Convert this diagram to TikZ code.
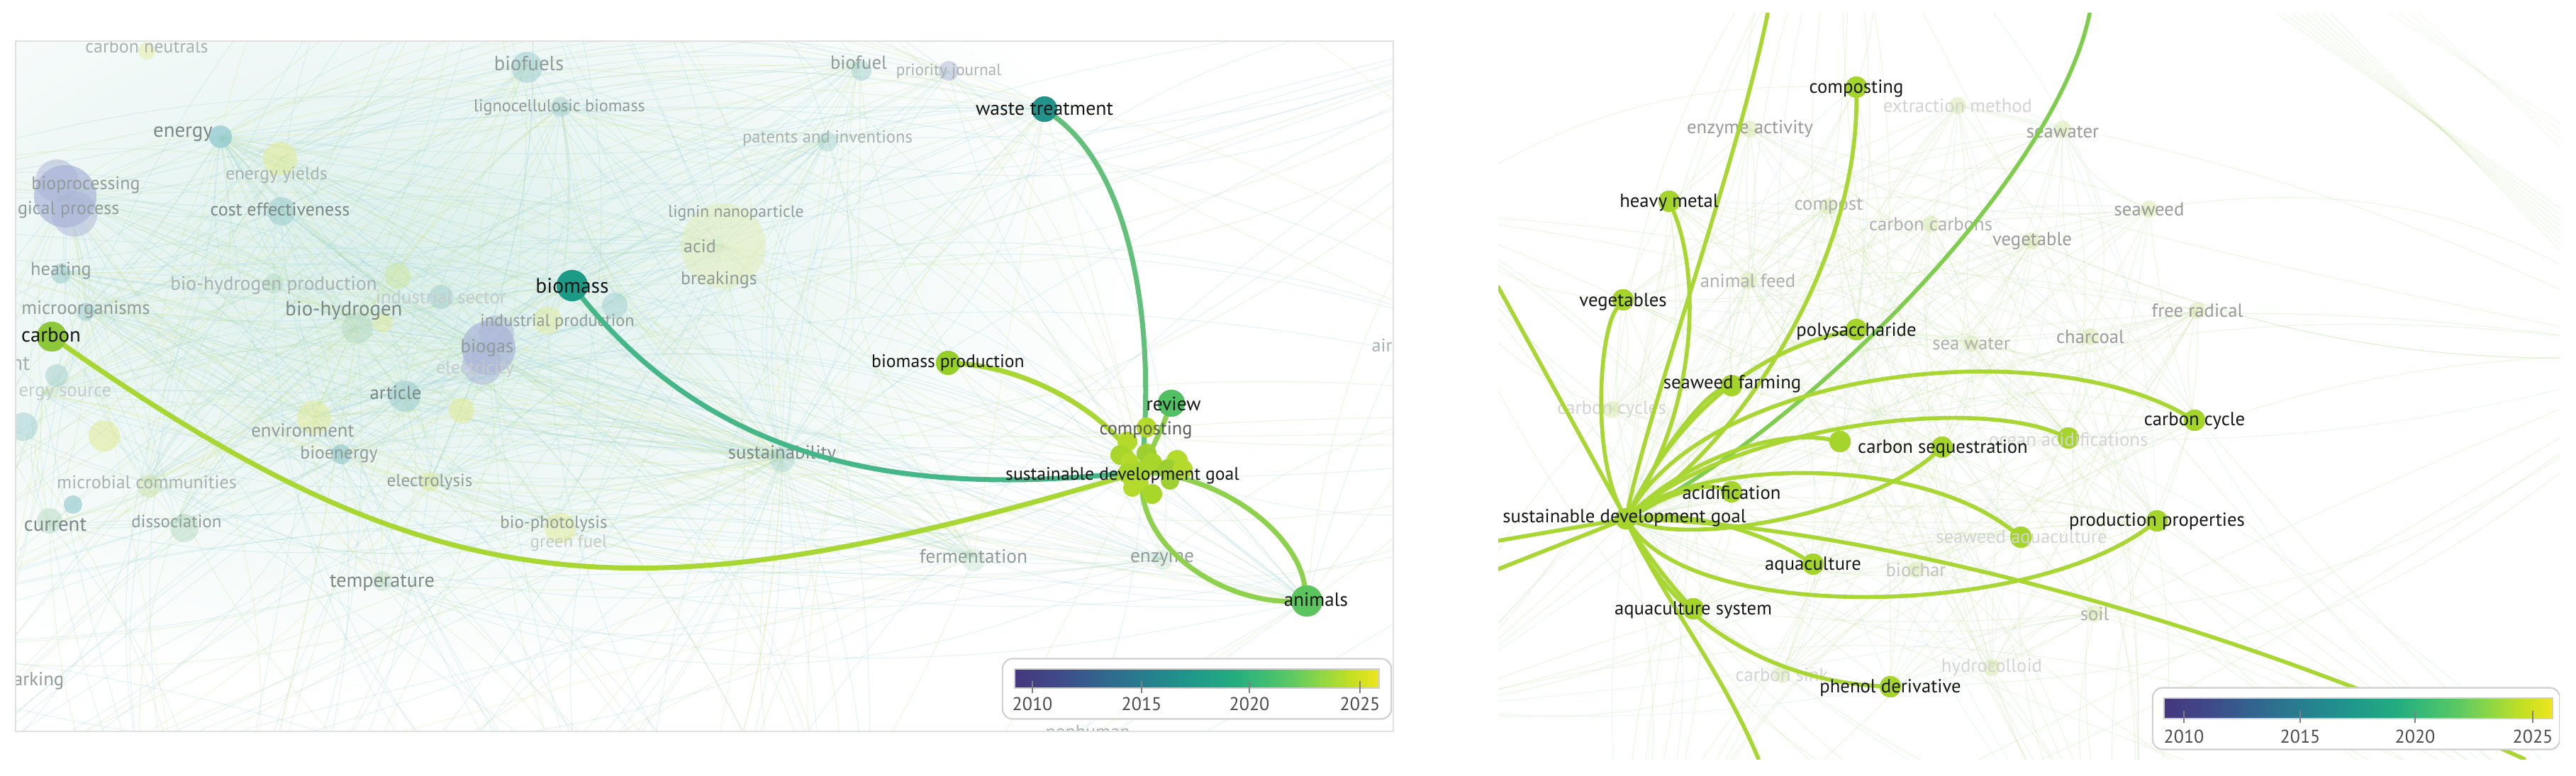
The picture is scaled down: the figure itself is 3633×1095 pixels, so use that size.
\documentclass[tikz,border=0pt]{standalone}
\usepackage{fontspec}
\setmainfont{PT Sans}
\definecolor{lk}{HTML}{161616}
\definecolor{fg1}{HTML}{7C8886}
\definecolor{fg2}{HTML}{919B99}
\definecolor{fg3}{HTML}{A9B2B0}
\definecolor{fg4}{HTML}{C4CCCA}
\definecolor{rg1}{HTML}{9A9A9A}
\definecolor{rg2}{HTML}{AFAFAF}
\definecolor{rg3}{HTML}{C4C4C4}
\definecolor{rg4}{HTML}{D4D4D4}
\definecolor{cT}{HTML}{9FCFCF}
\definecolor{cT2}{HTML}{8CC7CE}
\definecolor{cL}{HTML}{AAB4D8}
\definecolor{cY}{HTML}{E2EC9C}
\definecolor{cYp}{HTML}{E3EFBE}
\definecolor{cG}{HTML}{B5DBC0}
\definecolor{cGY}{HTML}{CDE6A8}
\definecolor{cRf}{HTML}{DCEBB5}
\definecolor{haze}{HTML}{DDF0EC}
\definecolor{bgB}{HTML}{8CCCD4}
\definecolor{bgG}{HTML}{B4DE8C}
\definecolor{bgY}{HTML}{DDE996}
\definecolor{bgR}{HTML}{C6E4A0}
\definecolor{bgRb}{HTML}{CFE3EA}
\definecolor{nSDG}{HTML}{A8D62A}
\definecolor{nSDGb}{HTML}{B4DB2C}
\definecolor{nSDGc}{HTML}{9ECF30}
\definecolor{nCarbon}{HTML}{8DC83A}
\definecolor{nBiomass}{HTML}{1B9A86}
\definecolor{nWaste}{HTML}{22928A}
\definecolor{nReview}{HTML}{50C062}
\definecolor{nAnimals}{HTML}{5CC45C}
\definecolor{nBP}{HTML}{96CF28}
\definecolor{nR}{HTML}{A5D42A}
\definecolor{lnY}{HTML}{A8D632}
\definecolor{lnG}{HTML}{7ECD4C}
\definecolor{lnBio}{HTML}{45B688}
\definecolor{lnWaste}{HTML}{62C07A}
\definecolor{lnAn}{HTML}{8ED14C}
\definecolor{legb}{HTML}{CFCFCF}
\definecolor{legt}{HTML}{4A4A4A}
\definecolor{vA}{HTML}{46377F}
\definecolor{vB}{HTML}{3F4A8A}
\definecolor{vC}{HTML}{31678E}
\definecolor{vD}{HTML}{277F8E}
\definecolor{vE}{HTML}{1F978B}
\definecolor{vF}{HTML}{23AC80}
\definecolor{vG}{HTML}{3DBC74}
\definecolor{vH}{HTML}{5EC962}
\definecolor{vI}{HTML}{8FD744}
\definecolor{vJ}{HTML}{C2DF23}
\definecolor{vK}{HTML}{F0E51F}
\pgfdeclarehorizontalshading{viridisbar}{100bp}{color(0bp)=(vA); color(25bp)=(vA); color(31bp)=(vB); color(37bp)=(vC); color(43bp)=(vD); color(49bp)=(vE); color(55bp)=(vF); color(59bp)=(vG); color(63bp)=(vH); color(67bp)=(vI); color(71bp)=(vJ); color(75bp)=(vK); color(100bp)=(vK)}
\def\LX{{92,311,395,397,86,121,504,689,571,443,481,207,249,606,781,539,743,791,1211,1338,1167,1020,807,1103,1373,1639,1612,1473,1843,70,60,-300,-300,700,2400,1200,300,2300,1103,1103,92,311,689,1103,-200,900}}
\def\LY{{277,193,224,296,384,437,463,491,559,589,641,680,736,680,739,823,91,151,88,101,195,347,403,645,785,789,655,154,848,741,555,300,900,-300,600,1400,1400,0,645,645,277,193,491,645,1200,1400}}
\def\RX{{2293,2618,2354,2289,2618,2442,2442,2557,2388,2666,2739,3095,2917,2850,3042,2761,2468,2909,2579,2723,3031,2866,2465,3099,2780,2948,2273,2702,2954,2809,2513,2000,2000,2600,3800,3000,3800,2300,2293,2293,2595}}
\def\RY{{732,123,284,423,465,544,694,796,859,969,631,593,618,758,735,149,182,182,291,316,295,340,396,438,485,475,578,804,866,942,952,300,1000,-200,1300,1300,500,1300,732,732,623}}
\begin{document}
\begin{tikzpicture}[x=0.01cm,y=-0.01cm,
  bub/.style={circle,inner sep=0pt,minimum size=#1*0.02cm},
  fsz/.style={font=\fontsize{#1}{#1}\selectfont},
  lab/.style={inner sep=0pt,text=lk,fsz=7.4},
  flab/.style={inner sep=0pt,text=#1,fsz=7.4},
  mainL/.style={line width=2pt,line cap=round},
  mainR/.style={line width=1.6pt,line cap=round,lnY},
  tick/.style={draw=legt!70,line width=0.5pt},
  legtxt/.style={inner sep=0pt,text=legt,fsz=7.4},
]
\useasboundingbox (0,0) rectangle (3633,1095);
\fill[white] (0,0) rectangle (3633,1095);

%================ LEFT PANEL ================
\begin{scope}
\clip (22,58) rectangle (1965,1032);
\fill[white] (22,58) rectangle (1965,1032);
\shade[inner color=haze,outer color=white] (560,380) ellipse [x radius=1050,y radius=600];
\pgfmathsetseed{11}
\foreach \i in {1,...,330}{
  \pgfmathtruncatemacro{\a}{random(0,45)}
  \pgfmathtruncatemacro{\b}{random(0,45)}
  \pgfmathtruncatemacro{\bd}{random(0,60)-30}
  \pgfmathsetmacro{\xa}{\LX[\a]}\pgfmathsetmacro{\ya}{\LY[\a]}
  \pgfmathsetmacro{\xb}{\LX[\b]}\pgfmathsetmacro{\yb}{\LY[\b]}
  \pgfmathsetmacro{\dd}{abs(\xa-\xb)+abs(\ya-\yb)}
  \ifdim\dd pt<2pt\else
    \draw[bgB,opacity=.2,line width=.35pt] (\xa,\ya) to[bend left=\bd] (\xb,\yb);
  \fi
}
\foreach \i in {1,...,200}{
  \pgfmathtruncatemacro{\a}{random(0,45)}
  \pgfmathtruncatemacro{\b}{random(0,45)}
  \pgfmathtruncatemacro{\bd}{random(0,60)-30}
  \pgfmathsetmacro{\xa}{\LX[\a]}\pgfmathsetmacro{\ya}{\LY[\a]}
  \pgfmathsetmacro{\xb}{\LX[\b]}\pgfmathsetmacro{\yb}{\LY[\b]}
  \pgfmathsetmacro{\dd}{abs(\xa-\xb)+abs(\ya-\yb)}
  \ifdim\dd pt<2pt\else
    \draw[bgG,opacity=.22,line width=.35pt] (\xa,\ya) to[bend left=\bd] (\xb,\yb);
  \fi
}
\foreach \i in {1,...,60}{
  \pgfmathtruncatemacro{\a}{random(0,45)}
  \pgfmathtruncatemacro{\b}{random(0,45)}
  \pgfmathtruncatemacro{\bd}{random(0,60)-30}
  \pgfmathsetmacro{\xa}{\LX[\a]}\pgfmathsetmacro{\ya}{\LY[\a]}
  \pgfmathsetmacro{\xb}{\LX[\b]}\pgfmathsetmacro{\yb}{\LY[\b]}
  \pgfmathsetmacro{\dd}{abs(\xa-\xb)+abs(\ya-\yb)}
  \ifdim\dd pt<2pt\else
    \draw[bgY,opacity=.3,line width=.35pt] (\xa,\ya) to[bend left=\bd] (\xb,\yb);
  \fi
}
% faint bubbles
\node[bub=12,fill=cY,fill opacity=.5] (nCneut) at (207,72) {};
\node[bub=22,fill=cT,fill opacity=.55] (nBiofuels) at (743,95) {};
\node[bub=14,fill=cT,fill opacity=.5] (nLigno) at (791,151) {};
\node[bub=16,fill=cT2,fill opacity=.7] (nEnergy) at (311,193) {};
\node[bub=24,fill=cY,fill opacity=.6] (nEyield) at (395,224) {};
\node[bub=44,fill=cL,fill opacity=.7] (nBioproc) at (92,277) {};
\node[bub=30,fill=cL,fill opacity=.5] (nBioprocB) at (80,255) {};
\node[bub=32,fill=cL,fill opacity=.5] (nBioprocC) at (105,302) {};
\node[bub=20,fill=cT,fill opacity=.6] (nCost) at (397,298) {};
\node[bub=14,fill=cT,fill opacity=.6] (nHeat) at (86,386) {};
\node[bub=14,fill=cG,fill opacity=.5] (nBhp) at (386,400) {};
\node[bub=18,fill=cGY,fill opacity=.6] (nXa) at (561,389) {};
\node[bub=17,fill=cT,fill opacity=.5] (nIndsec) at (622,419) {};
\node[bub=13,fill=cT,fill opacity=.5] (nMicro) at (121,440) {};
\node[bub=22,fill=cG,fill opacity=.5] (nBh) at (504,463) {};
\node[bub=14,fill=cY,fill opacity=.5] (nBhy) at (540,455) {};
\node[bub=20,fill=cY,fill opacity=.5] (nIndprod) at (772,452) {};
\node[bub=18,fill=cT,fill opacity=.5] (nXb) at (867,431) {};
\node[bub=38,fill=cL,fill opacity=.7] (nBiogas) at (689,491) {};
\node[bub=25,fill=cL,fill opacity=.5] (nBiogasB) at (700,470) {};
\node[bub=28,fill=cL,fill opacity=.5] (nBiogasC) at (680,515) {};
\node[bub=18,fill=cY,fill opacity=.6] (nXc) at (651,579) {};
\node[bub=22,fill=cT,fill opacity=.6] (nArticle) at (571,559) {};
\node[bub=16,fill=cT,fill opacity=.5] (nXd) at (80,530) {};
\node[bub=22,fill=cY,fill opacity=.6] (nXe) at (147,615) {};
\node[bub=20,fill=cT,fill opacity=.5] (nXf) at (33,602) {};
\node[bub=24,fill=cY,fill opacity=.55] (nEnv) at (443,589) {};
\node[bub=14,fill=cT2,fill opacity=.6] (nBioen) at (481,641) {};
\node[bub=16,fill=cGY,fill opacity=.5] (nMcom) at (210,686) {};
\node[bub=14,fill=cY,fill opacity=.5] (nElys) at (606,680) {};
\node[bub=13,fill=cT2,fill opacity=.6] (nXg) at (103,712) {};
\node[bub=18,fill=cG,fill opacity=.5] (nCurr) at (70,735) {};
\node[bub=20,fill=cG,fill opacity=.5] (nDiss) at (260,745) {};
\node[bub=22,fill=cY,fill opacity=.55] (nBphot) at (790,745) {};
\node[bub=14,fill=cG,fill opacity=.4] (nTemp) at (539,820) {};
\node[bub=60,fill=cYp,fill opacity=.6] (nAcid) at (1020,347) {};
\node[bub=14,fill=cT,fill opacity=.5] (nBiofuel) at (1215,100) {};
\node[bub=14,fill=cL,fill opacity=.5] (nPrio) at (1338,100) {};
\node[bub=14,fill=cT,fill opacity=.4] (nPat) at (1167,200) {};
\node[bub=18,fill=cT,fill opacity=.4] (nSust) at (1103,648) {};
\node[bub=16,fill=cG,fill opacity=.35] (nFerm) at (1373,790) {};
\node[bub=14,fill=cG,fill opacity=.35] (nEnz) at (1640,790) {};
% faint labels
\node[flab=fg3] (tCneut) at (207,66) {carbon neutrals};
\node[flab=fg2,fsz=8.2] (tBiofuels) at (746,89) {biofuels};
\node[flab=fg2,fsz=6.9] (tLigno) at (789,151) {lignocellulosic biomass};
\node[flab=fg1,fsz=8.2] (tEnergy) at (258,189) {energy};
\node[flab=fg3,fsz=7.2] (tEyield) at (390,247) {energy yields};
\node[flab=fg2] (tBioproc) at (121,261) {bioprocessing};
\node[flab=fg2,anchor=east] (tBiolog) at (169,296) {gical process};
\node[flab=fg1] (tCost) at (395,295) {cost effectiveness};
\node[flab=fg2,fsz=7.5] (tHeat) at (86,382) {heating};
\node[flab=fg3,fsz=7.8] (tBhp) at (386,403) {bio-hydrogen production};
\node[flab=fg4,fsz=7.6] (tIndsec) at (622,419) {industrial sector};
\node[flab=fg2,fsz=7.6] (tMicro) at (121,437) {microorganisms};
\node[flab=fg1,fsz=8.2] (tBh) at (485,438) {bio-hydrogen};
\node[flab=fg2,fsz=6.9] (tIndprod) at (786,454) {industrial production};
\node[flab=fg2,fsz=7.6] (tBiogas) at (687,491) {biogas};
\node[flab=fg4] (tElec) at (670,521) {electricity};
\node[flab=fg1,fsz=7.6] (tArticle) at (558,554) {article};
\node[flab=fg3,fsz=8.5,anchor=east] (tNt) at (43,513) {nt};
\node[flab=fg4,fsz=7.6,anchor=east] (tEsrc) at (158,555) {ergy source};
\node[flab=fg2,fsz=7.6] (tEnv) at (427,607) {environment};
\node[flab=fg2,fsz=7.3] (tBioen) at (478,641) {bioenergy};
\node[flab=fg3] (tMcom) at (207,680) {microbial communities};
\node[flab=fg2,fsz=7.1] (tElys) at (606,680) {electrolysis};
\node[flab=fg1,fsz=8.2,anchor=east] (tCurr) at (123,741) {current};
\node[flab=fg2,fsz=7.1] (tDiss) at (249,736) {dissociation};
\node[flab=fg2,fsz=7.1] (tBphot) at (781,739) {bio-photolysis};
\node[flab=fg4,fsz=7.1] (tGfuel) at (802,766) {green fuel};
\node[flab=fg1,fsz=8] (tTemp) at (539,823) {temperature};
\node[flab=fg2,fsz=7.6,anchor=east] (tArk) at (91,961) {arking};
\node[flab=fg2,fsz=6.7] (tLignin) at (1038,301) {lignin nanoparticle};
\node[flab=fg2] (tAcid) at (987,347) {acid};
\node[flab=fg2] (tBreak) at (1014,395) {breakings};
\node[flab=fg2,fsz=7.6] (tBiofuel) at (1211,88) {biofuel};
\node[flab=fg3,fsz=6.6] (tPrio) at (1338,101) {priority journal};
\node[flab=fg3,fsz=7] (tPat) at (1167,195) {patents and inventions};
\node[flab=fg1,fsz=7.6] (tSust) at (1103,641) {sustainability};
\node[flab=fg2,fsz=7.8] (tFerm) at (1373,785) {fermentation};
\node[flab=fg2,fsz=7.8] (tEnz) at (1639,789) {enzyme};
\node[flab=fg3,anchor=west] (tAir) at (1934,487) {air};
\node[flab=fg3] (tNonh) at (1534,1033) {nonhuman};
% active nodes (left)
\node[bub=21,fill=nCarbon] (carbonL) at (73,475) {};
\node[bub=22,fill=nBiomass] (biomassL) at (807,403) {};
\node[bub=18,fill=nWaste] (wasteL) at (1473,154) {};
\node[bub=17,fill=nBP] (bprodL) at (1337,512) {};
\node[bub=19,fill=nReview] (reviewL) at (1652,569) {};
\node[bub=22,fill=nAnimals] (animalsL) at (1843,848) {};
\node[bub=14,fill=nSDG] (sdgL) at (1610,665) {};
% main connectors (left)
\draw[mainL,lnY] (carbonL) .. controls (623,860) and (900,875) .. (sdgL);
\draw[mainL,lnBio] (biomassL) .. controls (1000,640) and (1250,705) .. (sdgL);
\draw[mainL,lnWaste] (wasteL) .. controls (1590,240) and (1630,440) .. (sdgL);
\draw[mainL,lnY] (bprodL) .. controls (1450,520) and (1560,580) .. (sdgL);
\draw[mainL,lnAn] (reviewL) .. controls (1640,600) .. (sdgL);
\draw[mainL,lnAn] (sdgL) .. controls (1610,780) and (1730,850) .. (animalsL);
\draw[mainL,lnAn] (sdgL) .. controls (1740,680) and (1830,760) .. (animalsL);
\node[bub=21,fill=nCarbon] at (carbonL) {};
\node[bub=22,fill=nBiomass] at (biomassL) {};
\node[bub=18,fill=nWaste] at (wasteL) {};
\node[bub=17,fill=nBP] at (bprodL) {};
\node[bub=19,fill=nReview] at (reviewL) {};
\node[bub=22,fill=nAnimals] at (animalsL) {};
\node[bub=14,fill=nSDGb] (cA) at (1590,623) {};
\node[bub=14,fill=nSDG] (cB) at (1580,642) {};
\node[bub=14,fill=nSDGc] (cC) at (1617,640) {};
\node[bub=13,fill=nSDGb] (cD) at (1593,652) {};
\node[bub=14,fill=nSDG] (cE) at (1625,653) {};
\node[bub=15,fill=nSDGb] (cF) at (1660,650) {};
\node[bub=14,fill=nSDGc] (cG) at (1647,662) {};
\node[bub=14,fill=nSDGb] (cH) at (1668,662) {};
\node[bub=14,fill=nSDG] (cI) at (1590,668) {};
\node[bub=13,fill=nSDGb] (cJ) at (1607,682) {};
\node[bub=14,fill=nSDG] (cK) at (1625,697) {};
\node[bub=13,fill=nSDGc] (cL) at (1650,678) {};
\node[bub=13,fill=nSDGb] (cM) at (1597,688) {};
\node[bub=14,fill=nSDGb] (compL) at (1617,603) {};
\node[bub=14,fill=nSDG] at (sdgL) {};
% active labels (left)
\node[lab,fsz=8.2] (tCarbonL) at (72,473) {carbon};
\node[lab,fsz=8.4] (tBiomassL) at (807,403) {biomass};
\node[lab,fsz=7.9] (tWasteL) at (1473,154) {waste treatment};
\node[lab,fsz=7.3] (tBprodL) at (1337,512) {biomass production};
\node[lab,fsz=7.8] (tReviewL) at (1655,570) {review};
\node[lab,fsz=7.5,text=lk!70] (tCompL) at (1616,607) {composting};
\node[lab,fsz=7.3] (tSdgL) at (1583,671) {sustainable development goal};
\node[lab,fsz=7.7] (tAnimalsL) at (1856,846) {animals};
% legend (left)
\node[draw=legb,line width=.6pt,fill=white,rounded corners=4pt,minimum width=5.48cm,minimum height=0.85cm,inner sep=0pt] (legL) at (1688,972) {};
\node[shade,shading=viridisbar,draw=legb,minimum width=5.14cm,minimum height=0.27cm,inner sep=0pt] (barL) at (1688,957.5) {};
\foreach \tx in {1456,1610,1762,1918} \draw[tick] (\tx,961) -- (\tx,978);
\node[legtxt] (lgA) at (1456,993) {2010};
\node[legtxt] (lgB) at (1610,993) {2015};
\node[legtxt] (lgC) at (1762,993) {2020};
\node[legtxt] (lgD) at (1918,993) {2025};
\end{scope}
\draw[black!12,line width=.5pt] (22,58) rectangle (1965,1032);

%================ RIGHT PANEL ================
\begin{scope}
\clip (2113,19) rectangle (3610,1071);
\fill[white] (2113,19) rectangle (3610,1071);
\pgfmathsetseed{5}
\foreach \i in {1,...,280}{
  \pgfmathtruncatemacro{\a}{random(0,40)}
  \pgfmathtruncatemacro{\b}{random(0,40)}
  \pgfmathtruncatemacro{\bd}{random(0,50)-25}
  \pgfmathsetmacro{\xa}{\RX[\a]}\pgfmathsetmacro{\ya}{\RY[\a]}
  \pgfmathsetmacro{\xb}{\RX[\b]}\pgfmathsetmacro{\yb}{\RY[\b]}
  \pgfmathsetmacro{\dd}{abs(\xa-\xb)+abs(\ya-\yb)}
  \ifdim\dd pt<2pt\else
    \draw[bgR,opacity=.3,line width=.3pt] (\xa,\ya) to[bend left=\bd] (\xb,\yb);
  \fi
}
\foreach \i in {1,...,50}{
  \pgfmathtruncatemacro{\a}{random(0,40)}
  \pgfmathtruncatemacro{\b}{random(0,40)}
  \pgfmathtruncatemacro{\bd}{random(0,50)-25}
  \pgfmathsetmacro{\xa}{\RX[\a]}\pgfmathsetmacro{\ya}{\RY[\a]}
  \pgfmathsetmacro{\xb}{\RX[\b]}\pgfmathsetmacro{\yb}{\RY[\b]}
  \pgfmathsetmacro{\dd}{abs(\xa-\xb)+abs(\ya-\yb)}
  \ifdim\dd pt<2pt\else
    \draw[bgRb,opacity=.35,line width=.3pt] (\xa,\ya) to[bend left=\bd] (\xb,\yb);
  \fi
}
\foreach \k in {0,...,7}{
  \draw[bgR,opacity=.22,line width=.4pt] (3210+\k*11,19) -- (3620,300+\k*9);
}
\foreach \k in {0,...,3}{
  \draw[bgR,opacity=.18,line width=.3pt] (3370+\k*14,19) -- (3620,180+\k*12);
}
% faint bubbles
\foreach \px/\py [count=\n] in {2761/149,2468/182,2909/182,2579/291,2723/316,3031/295,2866/340,2465/396,3099/438,2780/485,2948/475,2273/578,2702/804,2954/866,2809/942,2513/952}{
  \node[bub=12,fill=cRf,fill opacity=.6] (rf\n) at (\px,\py) {};
}
% faint labels
\node[flab=rg4,fsz=7.6] (rExtr) at (2761,149) {extraction method};
\node[flab=rg1,fsz=7.6] (rEnzact) at (2468,182) {enzyme activity};
\node[flab=rg1,fsz=7.6] (rSeaw) at (2909,186) {seawater};
\node[flab=rg2,fsz=7.6] (rCompost) at (2579,291) {compost};
\node[flab=rg2,fsz=7.6] (rCcarb) at (2723,316) {carbon carbons};
\node[flab=rg1,fsz=7.6] (rSeaweed) at (3031,295) {seaweed};
\node[flab=rg1,fsz=7.6] (rVeg) at (2866,340) {vegetable};
\node[flab=rg2,fsz=7.6] (rAfeed) at (2465,396) {animal feed};
\node[flab=rg1,fsz=7.6] (rFree) at (3099,438) {free radical};
\node[flab=rg2,fsz=7.6] (rSeaw2) at (2780,485) {sea water};
\node[flab=rg1,fsz=7.6] (rChar) at (2948,475) {charcoal};
\node[flab=rg4,fsz=7.6] (rCcyc) at (2273,578) {carbon cycles};
\node[flab=rg3,fsz=7.6] (rBiochar) at (2702,804) {biochar};
\node[flab=rg2,fsz=7.6] (rSoil) at (2954,866) {soil};
\node[flab=rg4,fsz=7.6] (rHydro) at (2809,942) {hydrocolloid};
\node[flab=rg4,fsz=7.6] (rCsink) at (2513,952) {carbon sink};
% active nodes (right)
\node[bub=15,fill=nR] (sdgR) at (2293,732) {};
\node[bub=15,fill=nR] (compR) at (2618,123) {};
\node[bub=15,fill=nR] (heavyR) at (2354,284) {};
\node[bub=15,fill=nR] (vegR) at (2289,423) {};
\node[bub=15,fill=nR] (polyR) at (2618,465) {};
\node[bub=15,fill=nR] (sfarmR) at (2442,544) {};
\node[bub=15,fill=nR] (blankR) at (2595,623) {};
\node[bub=15,fill=nR] (cseqR) at (2739,631) {};
\node[bub=15,fill=nR] (acidR) at (2442,694) {};
\node[bub=15,fill=nR] (oceanR) at (2917,618) {};
\node[bub=15,fill=nR] (saqR) at (2850,758) {};
\node[bub=15,fill=nR] (cycleR) at (3095,593) {};
\node[bub=15,fill=nR] (ppropR) at (3042,735) {};
\node[bub=15,fill=nR] (aquaR) at (2557,796) {};
\node[bub=15,fill=nR] (aqsysR) at (2388,859) {};
\node[bub=15,fill=nR] (phenR) at (2666,969) {};
\coordinate (t1) at (2493,19);
\coordinate (t2) at (2947,19);
\coordinate (l1) at (2113,405);
\coordinate (l2) at (2113,763);
\coordinate (l3) at (2113,803);
\coordinate (b1) at (2480,1071);
\coordinate (br) at (3560,1071);
% main connectors (right)
\draw[mainR] (sdgR) .. controls (2480,600) and (2620,350) .. (compR);
\draw[mainR] (sdgR) .. controls (2400,560) and (2395,380) .. (heavyR);
\draw[mainR] (sdgR) .. controls (2245,640) and (2255,470) .. (vegR);
\draw[mainR] (sdgR) .. controls (2330,560) and (2450,230) .. (t1);
\draw[mainR,lnG] (sdgR) .. controls (2550,600) and (2900,250) .. (t2);
\draw[mainR] (sdgR) -- (l1);
\draw[mainR] (sdgR) -- (l2);
\draw[mainR] (sdgR) -- (l3);
\draw[mainR] (sdgR) .. controls (2340,640) and (2400,560) .. (sfarmR);
\draw[mainR] (sdgR) .. controls (2380,560) and (2500,490) .. (polyR);
\draw[mainR] (sdgR) .. controls (2380,650) and (2500,605) .. (blankR);
\draw[mainR] (sdgR) .. controls (2400,770) and (2640,720) .. (cseqR);
\draw[mainR] (sdgR) .. controls (2400,650) and (2700,640) .. (saqR);
\draw[mainR] (sdgR) .. controls (2420,520) and (2880,470) .. (cycleR);
\draw[mainR] (sdgR) .. controls (2450,600) and (2780,560) .. (oceanR);
\draw[mainR] (sdgR) .. controls (2400,880) and (2860,870) .. (ppropR);
\draw[mainR] (sdgR) .. controls (2600,740) and (3100,860) .. (br);
\draw[mainR] (sdgR) .. controls (2400,720) and (2500,760) .. (aquaR);
\draw[mainR] (sdgR) .. controls (2350,700) and (2400,680) .. (acidR);
\draw[mainR] (sdgR) .. controls (2320,780) and (2360,830) .. (aqsysR);
\draw[mainR] (sdgR) .. controls (2360,880) and (2500,960) .. (phenR);
\draw[mainR] (sdgR) .. controls (2350,850) and (2430,950) .. (b1);
\foreach \nm in {sdgR,compR,heavyR,vegR,polyR,sfarmR,blankR,cseqR,acidR,oceanR,saqR,cycleR,ppropR,aquaR,aqsysR,phenR}{
  \node[bub=15,fill=nR] at (\nm) {};
}
% labels (right)
\node[flab=rg4,fsz=7.6] (rOcean) at (2917,620) {ocean acidifications};
\node[flab=rg4,fsz=7.6] (rSaq) at (2851,760) {seaweed aquaculture};
\node[lab,fsz=7.6] (tCompR) at (2618,125) {composting};
\node[lab,fsz=7.6] (tHeavyR) at (2354,286) {heavy metal};
\node[lab,fsz=7.6] (tVegR) at (2289,426) {vegetables};
\node[lab,fsz=7.6] (tPolyR) at (2618,468) {polysaccharide};
\node[lab,fsz=7.6] (tSfarmR) at (2443,542) {seaweed farming};
\node[lab,fsz=7.6] (tCseqR) at (2740,633) {carbon sequestration};
\node[lab,fsz=7.6] (tAcidR) at (2442,695) {acidification};
\node[lab,fsz=7.6] (tSdgR) at (2291,731) {sustainable development goal};
\node[lab,fsz=7.6] (tCycleR) at (3095,594) {carbon cycle};
\node[lab,fsz=7.6] (tPpropR) at (3042,736) {production properties};
\node[lab,fsz=7.6] (tAquaR) at (2557,798) {aquaculture};
\node[lab,fsz=7.6] (tAqsysR) at (2388,861) {aquaculture system};
\node[lab,fsz=7.6] (tPhenR) at (2666,971) {phenol derivative};
% legend (right)
\node[draw=legb,line width=.6pt,fill=white,rounded corners=4pt,minimum width=5.74cm,minimum height=0.87cm,inner sep=0pt] (legR) at (3323,1014) {};
\node[shade,shading=viridisbar,draw=legb,minimum width=5.48cm,minimum height=0.29cm,inner sep=0pt] (barR) at (3326,999.5) {};
\foreach \tx in {3080,3244,3406,3572} \draw[tick] (\tx,1003) -- (\tx,1020);
\node[legtxt] (lgRA) at (3080,1039) {2010};
\node[legtxt] (lgRB) at (3244,1039) {2015};
\node[legtxt] (lgRC) at (3406,1039) {2020};
\node[legtxt] (lgRD) at (3572,1039) {2025};
\end{scope}
\end{tikzpicture}
\end{document}
